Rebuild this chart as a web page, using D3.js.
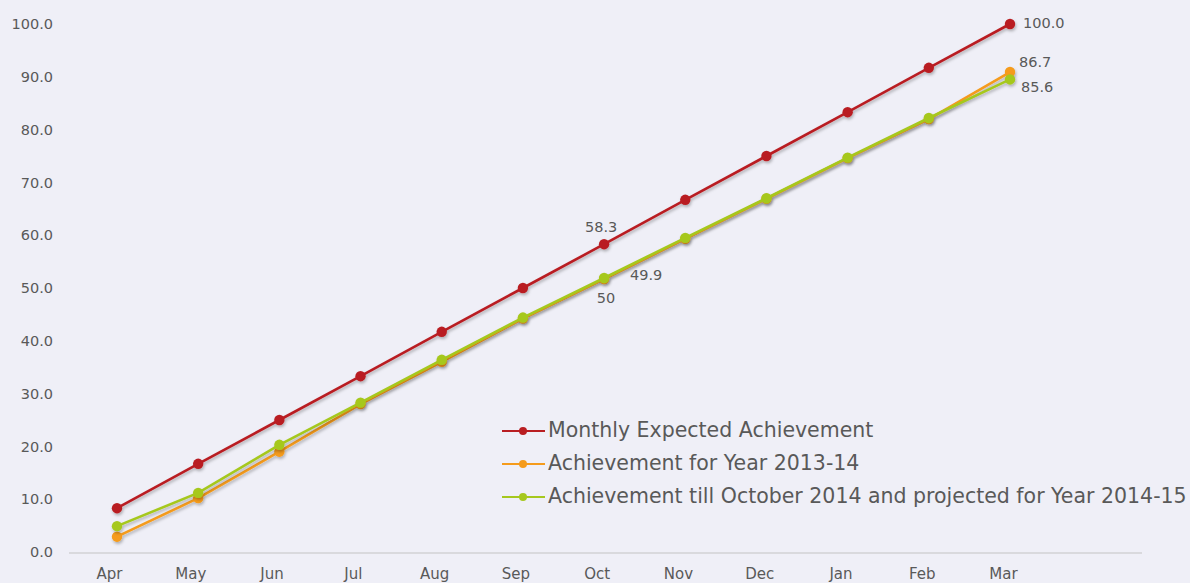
<!DOCTYPE html>
<html>
<head>
<meta charset="utf-8">
<script src="https://cdn.jsdelivr.net/npm/d3@7"></script>
<style>
  html, body { margin: 0; padding: 0; background: #EFEFF7; }
  svg { display: block; }
  text { font-family: "DejaVu Sans", sans-serif; fill: #595959; }
</style>
</head>
<body>
<svg id="chart" width="1190" height="583"></svg>
<script>
const months = ["Apr","May","Jun","Jul","Aug","Sep","Oct","Nov","Dec","Jan","Feb","Mar"];
const expected = [8.3,16.7,25.0,33.3,41.7,50.0,58.3,66.7,75.0,83.3,91.7,100.0];
const ach1314 = [2.9,10.2,19.0,28.0,36.0,44.2,51.7,59.3,66.9,74.6,82.0,90.9];
const ach1415 = [4.9,11.2,20.3,28.3,36.4,44.4,51.9,59.5,67.0,74.7,82.2,89.5];
const yTicks = [0,10,20,30,40,50,60,70,80,90,100];
const seriesNames = ["Monthly Expected Achievement","Achievement for Year 2013-14","Achievement till October 2014 and projected for Year 2014-15"];
// data labels: [series index, month, text]
const labelSeries = [0, 0, 1, 2, 1, 2];
const labelMonths = ["Oct", "Mar", "Oct", "Oct", "Mar", "Mar"];
const labelTexts  = ["58.3", "100.0", "49.9", "50", "86.7", "85.6"];

const colors = ["#B91E22", "#F59B1B", "#A6C81E"];
const series = [expected, ach1314, ach1415];

const svg = d3.select("#chart");
const defs = svg.append("defs");
const f = defs.append("filter").attr("id","sh").attr("x","-20%").attr("y","-20%").attr("width","140%").attr("height","140%");
f.append("feDropShadow").attr("dx",1).attr("dy",2).attr("stdDeviation",1.5).attr("flood-color","#000").attr("flood-opacity",0.28);

const y = d3.scaleLinear().domain([0,100]).range([552,24]);
const xLab = d3.scalePoint().domain(months).range([109,1003]);
const xPt = d3.scalePoint().domain(months).range([117,1010]);

// y axis labels
const yAxis = d3.axisLeft(y).tickValues(yTicks).tickFormat(d3.format(".1f")).tickSize(0).tickPadding(0);
const gy = svg.append("g").attr("transform","translate(53,0)").call(yAxis);
gy.select(".domain").remove();
gy.selectAll("text").style("font-size","14.5px").style("fill","#595959").attr("font-family",null);

// x axis
svg.append("line").attr("x1",69).attr("x2",1142).attr("y1",553).attr("y2",553)
   .attr("stroke","#D9D9DD").attr("stroke-width",2);
const xAxis = d3.axisBottom(xLab).tickSize(0).tickPadding(0);
const gx = svg.append("g").attr("transform","translate(0,579)").call(xAxis);
gx.select(".domain").remove();
gx.selectAll("text").attr("dy",null).style("font-size","15px").style("fill","#595959").attr("font-family",null);

// series
const line = d3.line().x((d,i)=>xPt(months[i])).y(d=>y(d));
[1,2,0].forEach(si => {
  const g = svg.append("g").attr("filter","url(#sh)");
  g.append("path").datum(series[si]).attr("d",line).attr("fill","none")
    .attr("stroke",colors[si]).attr("stroke-width",2.6);
  g.selectAll("circle").data(series[si]).join("circle")
    .attr("cx",(d,i)=>xPt(months[i])).attr("cy",d=>y(d)).attr("r",5.2).attr("fill",colors[si]);
});

// data labels
const lblOffX = [-3, 13, 42, 2, 9, 11];
const lblOffY = [-16, 0, -3, 21, -9, 9];
const lblAnchor = ["middle","start","middle","middle","start","start"];
labelTexts.forEach((t,k) => {
  const si = labelSeries[k], m = labelMonths[k];
  const v = series[si][months.indexOf(m)];
  svg.append("text").attr("x", xPt(m) + lblOffX[k]).attr("y", y(v) + lblOffY[k])
    .attr("text-anchor", lblAnchor[k])
    .attr("dominant-baseline","middle").style("font-size","14.5px").text(t);
});

// legend
const lg = svg.append("g");
seriesNames.forEach((n,i) => {
  const yy = 431 + i*33;
  lg.append("line").attr("x1",502).attr("x2",545).attr("y1",yy).attr("y2",yy).attr("stroke",colors[i]).attr("stroke-width",2.2);
  lg.append("circle").attr("cx",523).attr("cy",yy).attr("r",4).attr("fill",colors[i]);
  lg.append("text").attr("x",548).attr("y",yy).attr("dominant-baseline","middle").style("font-size","20.5px").text(n);
});
</script>
</body>
</html>
